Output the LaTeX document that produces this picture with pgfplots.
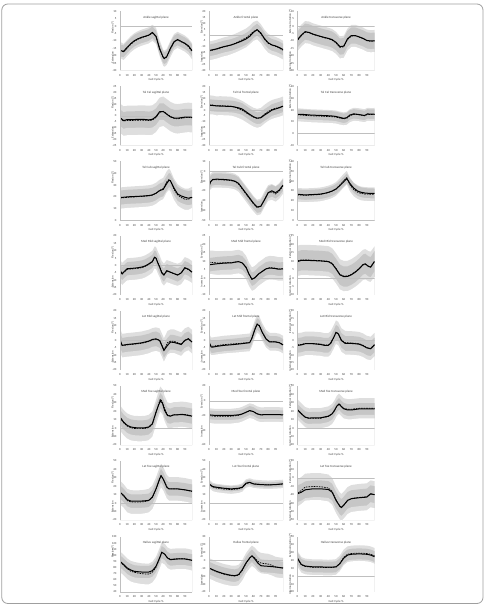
\documentclass[border=0pt]{standalone}
\usepackage{fontspec}
\setmainfont{Carlito}
\usepackage{pgfplots}
\usepackage{pgfplotstable}
\pgfplotsset{compat=1.18}

\definecolor{bandout}{HTML}{DEDEDE}
\definecolor{bandin}{HTML}{C6C6C6}
\definecolor{txt}{HTML}{404040}
\definecolor{zl}{HTML}{BFBFBF}
\newcommand\tinyf{\fontsize{3}{3.6}\selectfont}

\pgfkeys{/pan/.cd,
 x/.store in=\panX, y/.store in=\panY, ymin/.store in=\panYmin, ymax/.store in=\panYmax,
 step/.store in=\panStep, title/.store in=\panTitle, up/.store in=\panUp, low/.store in=\panLow,
 sd/.store in=\panSd, sdi/.store in=\panSdi, zero/.store in=\panZero, w/.store in=\panW, h/.store in=\panH}

\pgfplotsset{pbase/.style={scale only axis, anchor=north west,
 xmin=0, xmax=100, xtick={0,10,...,90}, axis lines*=left,
 x axis line style={draw=none}, y axis line style={draw=zl, line width=0.4pt, -},
 major tick length=0pt, tick style={draw=none},
 ticklabel style={font=\tinyf, text=txt}, xticklabel style={yshift=-0.3pt},
 /pgf/number format/assume math mode=true, clip=true, axis on top}}

\newcommand\panel[2]{%
 \pgfkeys{/pan/.cd,up={},low={},zero=0,h=59,#1}%
 \pgfmathsetmacro\panYY{605-\panY}%
 \begin{axis}[pbase, name=p, width=\panW pt, height=\panH pt, at={(\panX pt,\panYY pt)}, ymin=\panYmin, ymax=\panYmax, ytick distance=\panStep]
  \addplot[fill=bandout, draw=none, forget plot] table[x=x, y expr=\thisrow{b}+\panSd] {#2} |- (axis cs:0,\panYmin) -- cycle;
  \addplot[fill=bandin, draw=none, forget plot] table[x=x, y expr=\thisrow{a}+\panSdi] {#2} |- (axis cs:0,\panYmin) -- cycle;
  \addplot[fill=bandout, draw=none, forget plot] table[x=x, y expr=\thisrow{a}-\panSdi] {#2} |- (axis cs:0,\panYmin) -- cycle;
  \addplot[fill=white, draw=none, forget plot] table[x=x, y expr=\thisrow{b}-\panSd] {#2} |- (axis cs:0,\panYmin) -- cycle;
  \addplot[zl, line width=0.4pt, forget plot] coordinates {(0,\panZero) (100,\panZero)};
  \addplot[black, line width=0.7pt, dash pattern=on 1.6pt off 1pt] table[x=x, y=b] {#2};
  \addplot[black, line width=1pt] table[x=x, y=a] {#2};
 \end{axis}
 \node[font=\fontsize{3.2}{3.8}\selectfont, text=txt, anchor=north] at ([yshift=-0.8pt]p.north) {\panTitle};
 \node[font=\tinyf, text=txt] at ([yshift=-9.5pt]p.south) {Gait Cycle \%};
 \path (p.south west) -- (p.north west) coordinate[pos=0.56] (pu) coordinate[pos=0.38] (pl);
 \node[font=\tinyf, text=txt, rotate=90, anchor=west] at ([xshift=-7.3pt]pu) {\panUp};
 \node[font=\tinyf, text=txt, rotate=90, anchor=east] at ([xshift=-7.3pt]pl) {\panLow};
}

% ---------------- data: x, a = solid mean, b = dashed mean ----------------
\pgfplotstableread{
x a b
0 -16.5 -16
5 -17 -17.5
10 -14.3 -14.8
15 -11.8 -12.2
20 -9.8 -10.2
25 -8.5 -8.8
30 -7.5 -7.8
35 -6.8 -7
40 -6 -6.2
45 -4.2 -4.5
50 -6.9 -6.5
55 -15.4 -14.8
60 -21 -21.5
62 -21.7 -22
65 -20.5 -20.8
70 -15 -15.5
75 -10.5 -10.8
80 -9 -9.3
85 -10.3 -10.5
90 -11.5 -11.8
95 -13.3 -13.8
100 -16.5 -17
}\dA
\pgfplotstableread{
x a b
0 -13.1 -13.5
5 -12.4 -12.8
10 -11.7 -12
15 -10.7 -11
20 -9.8 -10
25 -9.1 -9.3
30 -8.4 -8.2
35 -7.3 -7
40 -6.1 -5.6
45 -4.8 -4
50 -3.3 -2.5
55 -1.1 0
60 2.3 3.1
65 4.6 4.3
70 1.8 1.2
75 -3 -3.5
80 -6.5 -7
85 -8.3 -8.6
90 -9.2 -9.5
95 -10.5 -11
100 -12.3 -12.8
}\dB
\pgfplotstableread{
x a b
0 -9.1 -9.5
5 -6 -6.4
10 -3.7 -4
15 -4.2 -4.3
20 -5.3 -5.5
25 -6.1 -6.3
30 -6.9 -7
35 -7.6 -7.8
40 -8.2 -8.5
45 -9.1 -9.4
50 -10.9 -11.3
55 -13.8 -14.3
60 -13.5 -14
65 -8.5 -9
70 -6.3 -6.6
75 -6.3 -6.5
80 -7.2 -7.4
85 -8.2 -8.4
90 -9.6 -9.8
95 -10 -10.2
100 -9.8 -10
}\dC
\pgfplotstableread{
x a b
0 -1.4 -2
5 -3.9 -4.3
10 -3 -3.8
15 -3 -3.8
20 -3 -3.7
25 -2.9 -3.6
30 -2.8 -3.5
35 -3 -3.6
40 -3.3 -3.8
45 -2.8 -3.4
50 -0.6 -1.2
55 3.6 3
60 3.8 4
65 1.5 1.8
70 -0.7 -0.5
75 -1.7 -2
80 -1.9 -2.4
85 -1.4 -2
90 -1 -1.5
95 -0.9 -1.2
100 -1.1 -1.5
}\dD
\pgfplotstableread{
x a b
0 4.2 4.5
5 3.9 4.3
10 3.6 3.5
15 3.4 3.8
20 3.3 3.6
25 3.2 3.5
30 3.1 3.3
35 2.6 2.4
40 1.9 1.2
45 0.8 -0.2
50 -1.4 -2.2
55 -3.6 -4.2
60 -5.6 -6
65 -6.9 -7
70 -6.5 -6.2
75 -4.2 -3.5
80 -2.2 -1.2
85 0 0.5
90 1 1.5
95 2 2.3
100 3.3 3.5
}\dE
\pgfplotstableread{
x a b
0 16.4 16
5 16.4 15.8
10 16.2 15.5
15 15.9 15.3
20 15.7 15.1
25 15.6 15
30 15.5 14.9
35 15.3 14.7
40 15.2 14.6
45 15 14.4
50 14.6 14.1
55 13.8 13.2
60 13 12.6
64 13.6 13
68 15.8 15.2
73 16.8 16.4
78 16.4 16.2
82 16 15.8
87 15.4 15.2
91 16.8 16.4
95 16.5 16.2
100 16.6 16.3
}\dF
\pgfplotstableread{
x a b
0 19.4 19
5 19.7 19.3
10 20 19.6
15 20.2 19.8
20 20.3 20
25 20.5 20.2
30 20.6 20.3
35 20.9 20.6
40 21.1 20.9
45 21.7 21.5
50 23.1 23
55 25.3 25.5
60 26.4 27
65 31.4 32.8
68 34.2 34.7
70 33.6 33.5
75 27.5 26.4
80 22.5 21.7
85 20.8 19.5
90 19.7 18
95 18.9 18
100 19.7 19.5
}\dG
\pgfplotstableread{
x a b
0 -15.7 -15
2 -10.7 -10.5
5 -8.3 -8.6
10 -8 -8.5
15 -8.1 -8.6
20 -8.3 -8.8
25 -8.6 -9
30 -9 -9.5
35 -10 -10.5
40 -12.3 -13
45 -17.3 -18
50 -22.3 -23
55 -27.3 -28
60 -32.3 -33
65 -36.3 -36.8
70 -35.5 -35.7
75 -29 -28.5
80 -21.7 -22
85 -19.8 -21
90 -21.7 -23
95 -19 -20
100 -14 -15
}\dH
\pgfplotstableread{
x a b
0 26.7 26
5 26.3 25.8
10 26 25.6
15 26.2 25.8
20 26.4 26
25 26.6 26.2
30 26.9 26.6
35 27.6 27.4
40 28.6 28.4
45 30 29.8
50 32 32
55 35.5 36
60 39.3 40.5
64 42.7 43.5
68 37.7 36.5
73 33 31.5
78 30 28.8
82 28.8 27.6
87 28 27
91 27.7 26.8
100 27.5 26.6
}\dI
\pgfplotstableread{
x a b
0 -3.3 -3.6
3 -5.6 -5.8
5 -4.5 -4.8
10 -2.2 -2.6
15 -2 -2.4
20 -1.8 -2.2
25 -1.5 -1.9
30 -1.1 -1.5
35 -0.3 -0.6
40 1.1 0.8
45 2.7 2.5
48 5.6 5.4
50 5 5
53 1.1 1.5
55 -1 -0.5
58 -5 -4.5
61 -6.5 -6.2
65 -3.5 -3.8
70 -4.5 -4.7
75 -5.5 -5.6
80 -6.5 -6.3
85 -5 -5.2
90 -1.5 -1.8
95 -2.5 -2.8
100 -4.5 -4.4
}\dJ
\pgfplotstableread{
x a b
0 7.9 9.4
5 8.2 9.3
10 8.5 9
15 8.7 9
20 8.9 9.1
25 9 9.1
30 9 9.1
35 9.5 9.5
40 9.8 9.8
45 9 9
50 6.5 6.3
54 2.5 2.3
58 -0.7 -0.6
62 0.2 0.3
67 2.5 2.4
72 4 4
77 5.5 5.6
82 6 6.2
88 5.8 6
94 5.3 5.5
100 5.5 5.5
}\dK
\pgfplotstableread{
x a b
0 9.8 10.3
5 10.6 10.8
10 10.6 10.8
20 10.4 10.6
30 10.2 10.4
40 9.8 10
45 8.5 8.8
50 5.5 5.8
55 2 2.3
60 0.9 1.2
65 1 1.3
70 2 2.3
75 3.5 3.8
80 5.5 5.6
85 8 7.8
88 8.5 8.2
92 7 7.1
95 6.5 6.7
100 10 9.8
}\dL
\pgfplotstableread{
x a b
0 0.4 0
3 -3.3 -3.5
10 -2.7 -3
20 -2.2 -2.5
30 -1.6 -1.9
40 -0.4 -0.7
45 0.7 0.4
50 1.1 0.9
55 0 0.2
58 -3.3 -3
61 -6.7 -6.5
66 -3.3 -1.5
70 -1.1 -0.5
75 -1.3 -0.5
80 -2 -1.5
85 -2.7 -2.5
90 0 0.2
95 1.1 1.3
100 -1.1 -0.8
}\dM
\pgfplotstableread{
x a b
0 -1 -1.5
3 -4.4 -4
5 -4.5 -3.9
10 -4 -3.5
20 -3.3 -2.8
30 -2.9 -2.4
40 -2.4 -2
50 -1.8 -1.5
55 -1.5 -1.3
58 1.5 1.7
62 7.5 7.7
65 11 11.2
68 10 10.2
72 5.5 5.7
77 1 1.2
82 -1 -0.8
90 -1 -0.9
95 -1.5 -1.4
100 -3 -2.8
}\dN
\pgfplotstableread{
x a b
0 -3.3 -3
5 -3 -2.7
10 -2.2 -2
20 -2.2 -2
30 -2.7 -2.4
35 -3.3 -3
40 -3.3 -3
43 -2 -1.7
47 2 2.3
50 5.5 5.6
53 4.5 4.6
57 0 0.3
62 -2 -1.5
70 -2 -1.7
75 -2.2 -1.9
80 -2.5 -2.2
85 -3.5 -3.2
90 -5 -4.8
95 -5.6 -5.4
100 -3 -2.8
}\dO
\pgfplotstableread{
x a b
0 13 12
5 7.2 6.5
10 3.3 2.5
15 1.4 0.5
20 0.6 -0.4
25 0.3 -0.6
30 0.2 -0.6
35 0.5 -0.3
40 1.4 0.8
45 5.3 4.8
50 18.9 18.5
53 26 27
56 32.5 34.4
59 29.5 31
62 21 23
66 15 15.5
70 14.2 14.5
75 15.8 16
80 15.8 16
85 16.2 16.5
90 15.8 16.2
95 15 15.5
100 14.2 14.5
}\dP
\pgfplotstableread{
x a b
0 -19.1 -20
5 -19.6 -20.8
10 -20 -21
20 -20 -21
30 -20 -20.9
40 -19.1 -19.8
45 -17.8 -18.2
50 -15.6 -15.8
55 -13.3 -13.5
60 -14.7 -14.8
65 -17.8 -17.6
70 -19.1 -19
80 -18.7 -18.6
90 -18.7 -18.6
100 -19.1 -19
}\dQ
\pgfplotstableread{
x a b
0 21.6 22
5 17 17.5
10 13 13
15 11.9 11.5
20 12.3 11.8
30 12.3 11.8
40 14.2 13.8
45 17 16.8
48 21 21
51 26 26.3
54 28.6 29
57 25.5 26
60 23 23.5
65 21.6 22.5
70 21.6 22.5
80 22.8 23.5
90 22.8 23.5
100 22.8 23.5
}\dR
\pgfplotstableread{
x a b
0 13 12.5
5 9.2 8.5
10 4.1 3
15 2.5 1.4
20 2.5 1.2
25 2.5 1.2
30 2.5 1.4
35 2.8 2
40 3.3 3
45 7.2 7
50 16.9 16.5
55 28.6 28.6
57 32.5 32.5
60 28.6 29
65 18.9 19.5
68 16.9 17
70 16.9 16.9
80 16.9 16.9
90 15.8 15.8
100 14.2 14
}\dS
\pgfplotstableread{
x a b
0 22.8 23
5 19.7 19.2
10 18.9 18
20 17.7 16.8
30 16.9 16
40 17.7 17
45 18.9 18.5
50 23.6 23.2
55 24.7 24.5
60 22.8 23
70 22 22.2
80 21.6 21.8
90 22 22.2
100 22.8 22.8
}\dT
\pgfplotstableread{
x a b
0 -18.9 -18
5 -17 -15
10 -14.2 -11
20 -13 -10.3
30 -13 -10.5
40 -13.8 -12
45 -17 -16
50 -26.7 -26
55 -33.7 -33.5
57 -35.2 -35
60 -32.5 -32.5
65 -26.7 -27
70 -24.7 -24.5
80 -23.6 -23.2
90 -22.8 -22.5
95 -18.9 -19
100 -20 -20
}\dU
\pgfplotstableread{
x a b
0 90.2 89.5
5 85 84
10 79.3 78
15 76 74
20 73.8 72.2
25 73.2 71
30 72.7 70
35 72.7 69.6
40 72.7 69.4
45 74.9 72.5
50 82 80.5
55 95.6 95
58 105 104.5
62 102 102
66 95.6 96
70 92.9 93.5
75 93.5 94
80 94 94.5
85 94 94.5
90 94 94.5
95 93 93.5
100 91.8 92
}\dV
\pgfplotstableread{
x a b
0 -9.5 -10
5 -11.6 -12
10 -13.7 -14.2
15 -15.2 -15.8
20 -16.7 -17.3
25 -17.8 -18.3
30 -18.8 -19.3
35 -19.2 -19.6
40 -17.9 -18.5
45 -11.6 -12.5
50 -3.1 -3.5
55 3.3 3
58 6 6
62 2 3.3
66 -3.1 -1
70 -6.5 -3.1
75 -7 -3.9
80 -7.3 -4.4
85 -7.7 -6
90 -8.2 -8.2
95 -8.8 -9
100 -9.5 -9.5
}\dW
\pgfplotstableread{
x a b
0 23 22
5 15 14.5
10 13 12.5
15 12.5 12
20 12 11.5
25 12 11.5
30 12 11.5
35 11.7 11.2
40 11.5 11
45 11.7 11.3
50 12 11.8
55 16 16.5
60 23 24
65 27 28
70 28 29
75 28.3 29.3
80 28.5 29.5
85 28.3 29.3
90 28 29
95 27 28
100 25 26
}\dX

\begin{document}
\begin{tikzpicture}
\path[use as bounding box] (0,0) rectangle (485pt,605pt);
\draw[gray!75, line width=0.8pt, rounded corners=6pt] (1.8pt,1.5pt) rectangle (483pt,601pt);
% row 1
\panel{x=120,y=11.5,w=72,ymin=-30,ymax=10,step=5,title={Ankle sagittal plane},up={Flexion (°)},low={Extension},sd=5.5,sdi=4}{\dA}
\panel{x=209,y=11.5,w=74,ymin=-30,ymax=20,step=5,title={Ankle frontal plane},up={Eversion (°)},low={Inversion},sd=8,sdi=5}{\dB}
\panel{x=297.5,y=11.5,w=77,ymin=-30,ymax=10,step=5,title={Ankle transverse plane},up={External rotation (°)},low={Internal rotation},sd=7.5,sdi=5.5}{\dC}
% row 2
\panel{x=120,y=86.5,w=72,ymin=-25,ymax=25,step=5,title={Tal Cal sagittal plane},up={Flexion (°)},low={Extension},sd=12.5,sdi=7}{\dD}
\panel{x=209,y=86.5,w=74,ymin=-30,ymax=20,step=5,title={Tal Cal frontal plane},up={Eversion (°)},low={Inversion},sd=8,sdi=5}{\dE}
\panel{x=297.5,y=86.5,w=77,ymin=-10,ymax=40,step=10,title={Tal Cal transverse plane},up={External rotation (°)},sd=5.5,sdi=4}{\dF}
% row 3
\panel{x=120,y=161.5,w=72,ymin=0,ymax=50,step=10,title={Tal Cub sagittal plane},up={Flexion (°)},sd=9,sdi=6}{\dG}
\panel{x=209,y=161.5,w=74,ymin=-50,ymax=10,step=10,title={Tal Cub frontal plane},up={Eversion (°)},low={Inversion},sd=8,sdi=6}{\dH}
\panel{x=297.5,y=161.5,w=77,ymin=0,ymax=60,step=10,title={Tal Cub transverse plane},up={External rotation (°)},sd=7,sdi=5}{\dI}
% row 4
\panel{x=120,y=236,w=72,ymin=-20,ymax=20,step=5,title={Med Mid sagittal plane},up={Flexion (°)},low={Extension},sd=7.5,sdi=4.5}{\dJ}
\panel{x=209,y=236,w=74,ymin=-10,ymax=25,step=5,title={Med Mid frontal plane},up={Eversion (°)},low={Inversion},sd=7,sdi=4}{\dK}
\panel{x=297.5,y=236,w=77,ymin=-10,ymax=25,step=5,title={Med Mid transverse plane},up={External rotation (°)},low={Internal rotation},sd=9,sdi=6}{\dL}
% row 5
\panel{x=120,y=311,w=72,ymin=-20,ymax=20,step=5,title={Lat Mid sagittal plane},up={Flexion (°)},low={Extension},sd=8,sdi=5}{\dM}
\panel{x=209,y=311,w=74,ymin=-20,ymax=20,step=5,title={Lat Mid frontal plane},up={Eversion (°)},low={Inversion},sd=6,sdi=4}{\dN}
\panel{x=297.5,y=311,w=77,ymin=-20,ymax=20,step=5,title={Lat Mid transverse plane},up={External rotation (°)},low={Internal rotation},sd=8,sdi=5}{\dO}
% row 6
\panel{x=120,y=386,w=72,ymin=-20,ymax=50,step=10,title={Med Toe sagittal plane},up={Flexion (°)},low={Extension},sd=15,sdi=9}{\dP}
\panel{x=209,y=386,w=74,ymin=-60,ymax=20,step=20,title={Med Toe frontal plane},up={Eversion (°)},low={Inversion},sd=10,sdi=6}{\dQ}
\panel{x=297.5,y=386,w=77,ymin=-20,ymax=50,step=10,title={Med Toe transverse plane},up={External rotation (°)},low={Internal rotation},sd=12,sdi=7}{\dR}
% row 7
\panel{x=120,y=461,w=72,ymin=-20,ymax=50,step=10,title={Lat Toe sagittal plane},up={Flexion (°)},low={Extension},sd=14,sdi=8}{\dS}
\panel{x=209,y=461,w=74,ymin=-20,ymax=50,step=10,title={Lat Toe frontal plane},up={Eversion (°)},low={Inversion},sd=5,sdi=3}{\dT}
\panel{x=297.5,y=461,w=77,ymin=-50,ymax=20,step=10,title={Lat Toe transverse plane},up={External rotation (°)},low={Internal rotation},sd=16,sdi=10}{\dU}
% row 8
\panel{x=120,y=537,w=72,h=55,ymin=40,ymax=130,step=10,title={Hallux sagittal plane},up={Flexion (°)},sd=17,sdi=10,zero=40}{\dV}
\panel{x=209,y=537,w=74,h=55,ymin=-40,ymax=30,step=10,title={Hallux frontal plane},up={Eversion (°)},low={Inversion},sd=13,sdi=8}{\dW}
\panel{x=297.5,y=537,w=77,h=55,ymin=-20,ymax=50,step=10,title={Hallux transverse plane},up={External rotation (°)},low={Internal rotation},sd=10,sdi=7}{\dX}
\end{tikzpicture}
\end{document}
